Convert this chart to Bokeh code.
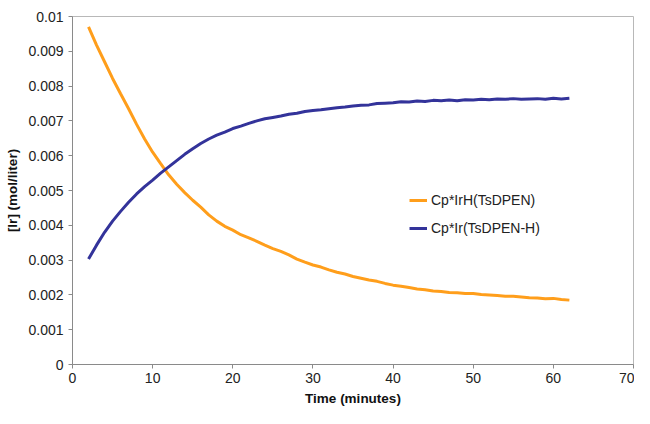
from bokeh.plotting import figure
from bokeh.models import Range1d, FixedTicker, Legend, LegendItem
from bokeh.embed import file_html
from bokeh.resources import INLINE

# ---- data ----
time_min = list(range(2, 63))
irh_tsdpen = [
    0.00970, 0.00918, 0.00870, 0.00822, 0.00778, 0.00735, 0.00690, 0.00648, 0.00610, 0.00577,
    0.00545, 0.00518, 0.00494, 0.00472, 0.00452, 0.00430, 0.00412, 0.00397, 0.00386, 0.00373,
    0.00364, 0.00354, 0.00343, 0.00333, 0.00325, 0.00315, 0.00303, 0.00294, 0.00286, 0.00280,
    0.00272, 0.00265, 0.00260, 0.00253, 0.00248, 0.00243, 0.00239, 0.00233, 0.00228, 0.00225,
    0.00221, 0.00217, 0.00215, 0.00211, 0.00210, 0.00207, 0.00206, 0.00204, 0.00204, 0.00201,
    0.00200, 0.00198, 0.00196, 0.00196, 0.00194, 0.00192, 0.00191, 0.00189, 0.00190, 0.00187,
    0.00185,
]
ir_tsdpen_h = [
    0.00303, 0.00343, 0.00380, 0.00412, 0.00440, 0.00466, 0.00490, 0.00511, 0.00530, 0.00550,
    0.00568, 0.00586, 0.00604, 0.00620, 0.00635, 0.00648, 0.00659, 0.00668, 0.00678, 0.00685,
    0.00693, 0.00700, 0.00706, 0.00710, 0.00714, 0.00719, 0.00722, 0.00727, 0.00730, 0.00732,
    0.00735, 0.00738, 0.00740, 0.00743, 0.00745, 0.00746, 0.00750, 0.00751, 0.00752, 0.00755,
    0.00754, 0.00757, 0.00756, 0.00759, 0.00758, 0.00760, 0.00758, 0.00761, 0.00760, 0.00762,
    0.00761, 0.00763, 0.00762, 0.00764, 0.00762, 0.00763, 0.00764, 0.00762, 0.00765, 0.00763,
    0.00765,
]
series_names = ["Cp*IrH(TsDPEN)", "Cp*Ir(TsDPEN-H)"]
x_ticks = [0, 10, 20, 30, 40, 50, 60, 70]
y_ticks = [0, 0.001, 0.002, 0.003, 0.004, 0.005, 0.006, 0.007, 0.008, 0.009, 0.01]
y_tick_labels = ["0", "0.001", "0.002", "0.003", "0.004", "0.005", "0.006", "0.007",
                 "0.008", "0.009", "0.01"]

FONT = "Liberation Sans"

p = figure(width=634, height=408, output_backend="svg", toolbar_location=None,
           x_range=Range1d(0, 70), y_range=Range1d(0, 0.01),
           min_border_left=72, min_border_right=1, min_border_top=16, min_border_bottom=40)
p.background_fill_color = "white"
p.border_fill_color = "white"
p.outline_line_color = "#b8b8b8"
p.xgrid.visible = False
p.ygrid.visible = False

r1 = p.line(time_min, irh_tsdpen, line_color="#FF9E1B", line_width=3)
r2 = p.line(time_min, ir_tsdpen_h, line_color="#33339A", line_width=3)

p.xaxis.ticker = FixedTicker(ticks=x_ticks)
p.yaxis.ticker = FixedTicker(ticks=y_ticks)
p.yaxis.major_label_overrides = {t: l for t, l in zip(y_ticks, y_tick_labels)}
p.xaxis.major_label_overrides = {t: str(t) for t in x_ticks}

for ax in (p.xaxis, p.yaxis):
    ax.axis_line_color = "#8a8a8a"
    ax.major_tick_line_color = "#8a8a8a"
    ax.major_tick_in = 0
    ax.major_tick_out = 4
    ax.minor_tick_line_color = None
    ax.major_label_text_font = FONT
    ax.major_label_text_font_size = "14px"
    ax.major_label_text_color = "#222222"
    ax.axis_label_text_font = FONT
    ax.axis_label_text_font_size = "13.5px"
    ax.axis_label_text_font_style = "bold"
    ax.axis_label_text_color = "#111111"

p.xaxis.axis_label = "Time (minutes)"
p.yaxis.axis_label = "[Ir] (mol/liter)"
p.xaxis.major_label_standoff = 4
p.xaxis.axis_label_standoff = 5
p.yaxis.major_label_standoff = 5
p.yaxis.axis_label_standoff = 5

legend = Legend(items=[LegendItem(label=series_names[0], renderers=[r1]),
                       LegendItem(label=series_names[1], renderers=[r2])],
                location=(337, 126), padding=0, margin=0, spacing=8,
                glyph_width=18, glyph_height=20, label_height=20, label_standoff=4,
                border_line_alpha=0, background_fill_alpha=0,
                label_text_font=FONT, label_text_font_size="14px",
                label_text_color="#222222")
p.add_layout(legend, "center")

open("out.html", "w").write(file_html(p, INLINE))
